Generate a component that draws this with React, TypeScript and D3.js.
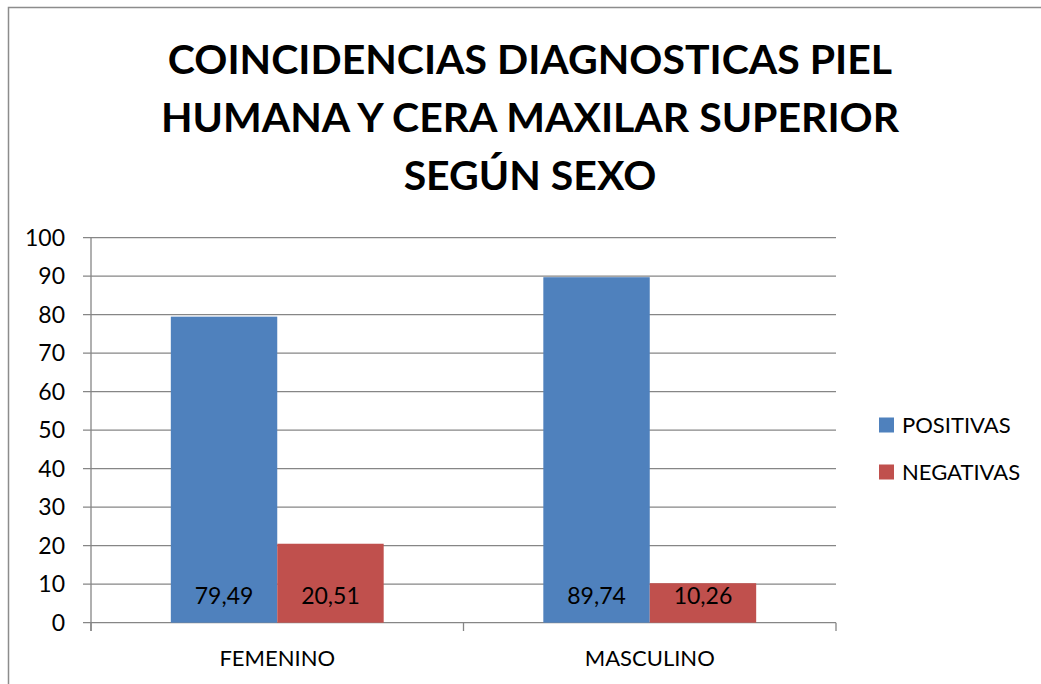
import React from 'react';
import * as d3 from 'd3';

const titleLines = ['COINCIDENCIAS DIAGNOSTICAS PIEL', 'HUMANA Y CERA MAXILAR SUPERIOR', 'SEGÚN SEXO'];
const categories = ['FEMENINO', 'MASCULINO'];
const seriesNames = ['POSITIVAS', 'NEGATIVAS'];
const positivas = [79.49, 89.74];
const negativas = [20.51, 10.26];
const yTicks = [0, 10, 20, 30, 40, 50, 60, 70, 80, 90, 100];
const colors = ['#4F81BD', '#C0504D'];

const W = 1041;
const H = 684;
const margin = { left: 91, right: 836, top: 237.7, bottom: 622.7 };
const font = 'Lato, Calibri, "Open Sans", sans-serif';

export default function App() {
  const x = d3.scaleBand<string>().domain(categories).range([margin.left, margin.right]);
  const inner = d3
    .scaleBand<string>()
    .domain(seriesNames)
    .range([0, x.bandwidth()])
    .paddingOuter(0.75)
    .paddingInner(0);
  const y = d3.scaleLinear().domain([0, 100]).range([margin.bottom, margin.top]);
  const values = [positivas, negativas];
  const grid = '#868686';

  return (
    <svg
      width={W}
      height={H}
      style={{ position: 'absolute', left: 0, top: 0, background: '#fff' }}
      fontFamily={font}
    >
      <rect x={8.5} y={7.5} width={1040} height={700} fill="#fff" stroke="#8c8c8c" strokeWidth={1.5} />

      {/* title */}
      {titleLines.map((t, i) => (
        <text
          key={t}
          x={530}
          y={74 + i * 58}
          textAnchor="middle"
          fontWeight="bold"
          fontSize={41}
          fill="#000"
        >
          {t}
        </text>
      ))}

      {/* gridlines and y ticks */}
      {yTicks.map(t => (
        <g key={t}>
          <line x1={83} x2={margin.right} y1={y(t)} y2={y(t)} stroke={grid} strokeWidth={1.3} />
          <text x={65} y={y(t)} dy="0.35em" textAnchor="end" fontSize={23} fill="#000">
            {t}
          </text>
        </g>
      ))}
      <line x1={margin.left} x2={margin.left} y1={margin.top} y2={631} stroke={grid} strokeWidth={1.3} />

      {/* category ticks */}
      {[margin.left, x(categories[1])!, margin.right].map((v, i) => (
        <line key={i} x1={v} x2={v} y1={margin.bottom} y2={631} stroke={grid} strokeWidth={1.3} />
      ))}

      {/* bars */}
      {categories.map((c, ci) =>
        seriesNames.map((s, si) => {
          const v = values[si][ci];
          const bx = x(c)! + inner(s)!;
          return (
            <g key={c + s}>
              <rect
                x={bx}
                y={y(v)}
                width={inner.bandwidth()}
                height={margin.bottom - y(v)}
                fill={colors[si]}
              />
              <text
                x={bx + inner.bandwidth() / 2}
                y={604}
                textAnchor="middle"
                fontSize={23}
                fill="#000"
              >
                {v.toFixed(2).replace('.', ',')}
              </text>
            </g>
          );
        })
      )}

      {/* category labels */}
      {categories.map(c => (
        <text key={c} x={x(c)! + x.bandwidth() / 2} y={666} textAnchor="middle" fontSize={22} fill="#000">
          {c}
        </text>
      ))}

      {/* legend */}
      {seriesNames.map((s, i) => (
        <g key={s} transform={`translate(879, ${425 + i * 47})`}>
          <rect x={0} y={-7.5} width={15} height={15} fill={colors[i]} />
          <text x={23} y={0} dy="0.35em" fontSize={22} fill="#000">
            {s}
          </text>
        </g>
      ))}
    </svg>
  );
}
